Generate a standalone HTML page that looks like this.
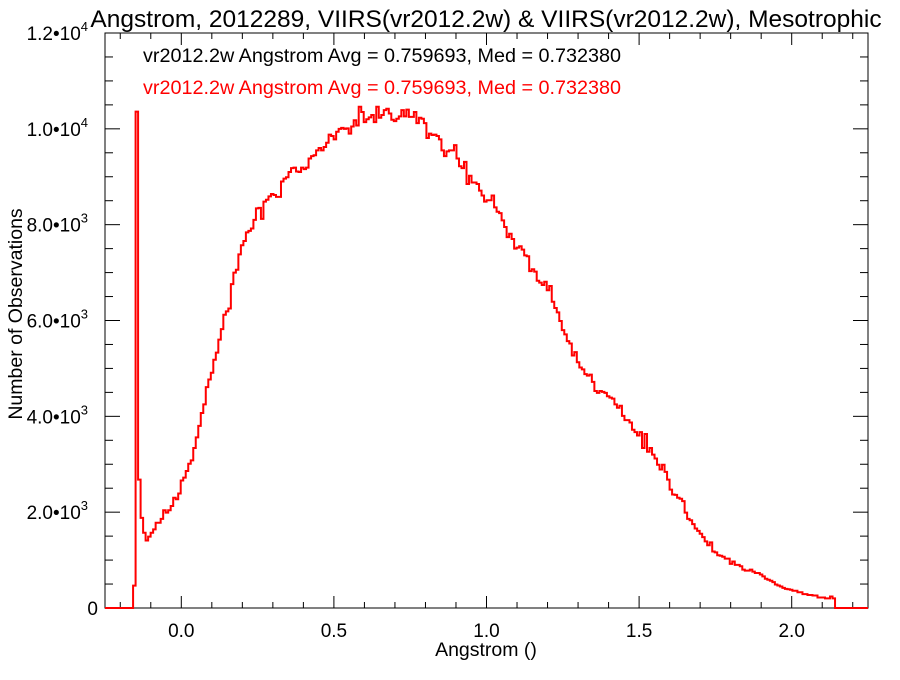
<!DOCTYPE html>
<html><head><meta charset="utf-8"><style>
body{margin:0;background:#fff;}
svg text{font-family:"Liberation Sans",sans-serif;}
</style></head><body>
<svg id="chart" width="900" height="675" xmlns="http://www.w3.org/2000/svg">
<rect width="900" height="675" fill="#fff"/>
<text x="486" y="27" font-size="24.5" text-anchor="middle">Angstrom, 2012289, VIIRS(vr2012.2w) &amp; VIIRS(vr2012.2w), Mesotrophic</text>
<text x="143" y="62" font-size="19.8" fill="#000">vr2012.2w Angstrom Avg = 0.759693, Med = 0.732380</text>
<text x="143" y="94" font-size="19.8" fill="#ff0000">vr2012.2w Angstrom Avg = 0.759693, Med = 0.732380</text>
<text x="486" y="656" font-size="19.5" text-anchor="middle">Angstrom ()</text>
<text x="0" y="0" font-size="19.5" text-anchor="middle" transform="translate(22,314) rotate(-90)">Number of Observations</text>
<g id="axes"></g>
<path id="hist" fill="none" stroke="#ff0000" stroke-width="2"/>
</svg>
<script>
const xTicks=[0.0,0.5,1.0,1.5,2.0];
const xTickLabels=["0.0","0.5","1.0","1.5","2.0"];
const yTicks=[0,2000,4000,6000,8000,10000,12000];
const yTickMant=["0","2.0","4.0","6.0","8.0","1.0","1.2"];
const yTickExp=["","3","3","3","3","4","4"];
const binStart=-0.158, binEnd=2.142;
const counts=[467,10360,2680,1880,1570,1410,1490,1570,1640,1780,1780,1860,2040,1990,2040,2130,2300,2270,2390,2660,2720,2860,3010,3080,3340,3560,3800,4070,4250,4610,4770,4910,5180,5330,5600,5820,6120,6190,6250,6760,7000,7060,7380,7570,7660,7840,7870,7920,8100,8340,8350,8120,8480,8520,8590,8640,8620,8580,8580,8900,8960,8990,9100,9180,9190,9110,9100,9190,9160,9190,9380,9430,9450,9550,9600,9550,9620,9710,9880,9850,9780,9940,10000,10020,10000,10010,9900,10050,10180,10070,10460,10350,10140,10200,10240,10290,10140,10460,10230,10290,10390,10420,10320,10190,10160,10210,10260,10390,10260,10400,10250,10250,10350,10120,10230,10210,10120,9810,9900,9870,9880,9850,9780,9550,9430,9530,9550,9550,9660,9380,9220,9180,9310,8850,9020,8880,8880,8850,8710,8610,8480,8510,8510,8610,8360,8270,8240,8090,7950,7740,7810,7700,7500,7520,7550,7480,7360,7340,7030,7070,7020,6830,6790,6740,6810,6630,6720,6390,6260,6170,5990,5800,5710,5570,5520,5270,5340,5130,5020,4980,4880,4850,4870,4720,4530,4490,4530,4510,4490,4420,4390,4370,4250,4180,4220,4010,3920,3920,3870,3720,3670,3600,3670,3340,3630,3260,3340,3200,3120,2990,2890,2990,2840,2680,2470,2370,2360,2300,2280,2230,1990,1860,1830,1750,1660,1610,1550,1480,1390,1310,1370,1180,1160,1100,1090,1070,1030,1030,920,970,900,900,870,800,780,780,800,760,730,730,700,660,610,590,570,540,490,470,450,420,400,390,380,360,360,330,330,290,290,270,270,260,260,220,220,220,200,200,240,200];
const X0=105,X1=868,Y0=608,Y1=33,xMin=-0.25,xMax=2.25,yMax=12000;
function sx(v){return X0+(v-xMin)/(xMax-xMin)*(X1-X0);}
function sy(v){return Y0-v/yMax*(Y0-Y1);}
const NS="http://www.w3.org/2000/svg";
const ax=document.getElementById('axes');
function line(x1,y1,x2,y2,name){const l=document.createElementNS(NS,'line');l.setAttribute('x1',x1);l.setAttribute('y1',y1);l.setAttribute('x2',x2);l.setAttribute('y2',y2);l.setAttribute('stroke','#000');l.setAttribute('stroke-width','1');


ax.appendChild(l);}
const fr=document.createElementNS(NS,'rect');fr.setAttribute('x',X0);fr.setAttribute('y',Y1);fr.setAttribute('width',X1-X0);fr.setAttribute('height',Y0-Y1);fr.setAttribute('fill','none');fr.setAttribute('stroke','#000');


ax.appendChild(fr);
for(let v=-0.2;v<=2.21;v+=0.1){const r=Math.round(v*10)/10;const major=Math.abs(r*2-Math.round(r*2))<1e-6;const L=major?12:6;const x=sx(r);line(x,Y0,x,Y0-L,'x-tick');line(x,Y1,x,Y1+L,'x-tick-top');}
xTicks.forEach((v,i)=>{const t=document.createElementNS(NS,'text');t.setAttribute('x',sx(v));t.setAttribute('y',637);t.setAttribute('font-size','19');t.setAttribute('text-anchor','middle');t.textContent=xTickLabels[i];


ax.appendChild(t);});
for(let v=0;v<=yMax;v+=500){const major=v%2000===0;const L=major?15:8;const y=sy(v);line(X0,y,X0+L,y,'y-tick');line(X1,y,X1-L,y,'y-tick-right');}
yTicks.forEach((v,i)=>{const t=document.createElementNS(NS,'text');t.setAttribute('x',yTickExp[i]?88:98);t.setAttribute('y',sy(v)+7);t.setAttribute('font-size','19');t.setAttribute('text-anchor','end');


if(yTickExp[i]){t.textContent=yTickMant[i]+'\u202210';const s=document.createElementNS(NS,'tspan');s.setAttribute('font-size','13');s.setAttribute('dy','-9');s.textContent=yTickExp[i];t.appendChild(s);}else t.textContent=yTickMant[i];
ax.appendChild(t);});
const w=(binEnd-binStart)/counts.length;
let d='M'+X0+','+sy(0)+' L'+sx(binStart)+','+sy(0);
counts.forEach((c,i)=>{const a=sx(binStart+i*w),b=sx(binStart+(i+1)*w);d+=' L'+a.toFixed(2)+','+sy(c).toFixed(2)+' L'+b.toFixed(2)+','+sy(c).toFixed(2);});
d+=' L'+sx(binEnd)+','+sy(0)+' L'+X1+','+sy(0);
document.getElementById('hist').setAttribute('d',d);
</script>
</body></html>
